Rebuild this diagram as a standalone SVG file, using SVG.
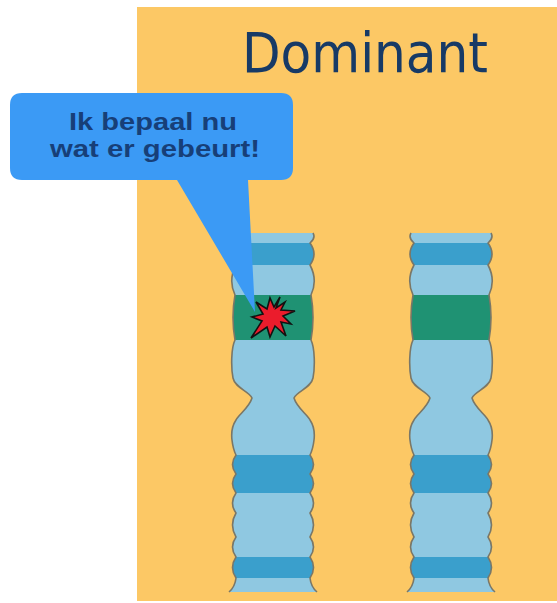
<svg xmlns="http://www.w3.org/2000/svg" xmlns:xlink="http://www.w3.org/1999/xlink" width="557" height="603" viewBox="0 0 557 603">
  <style>
    .panel { fill: #FCC865; }
    .title { font-family: "DejaVu Sans Condensed", "DejaVu Sans", Verdana, sans-serif; font-size: 55px; fill: #173A66; }
    .body { fill: #8FC8E1; }
    .band-blue { fill: #3A9FCC; }
    .band-green { fill: #1F9273; }
    .edge { fill: none; stroke: #7A7767; stroke-width: 1.6; stroke-linejoin: round; }
    .bubble { fill: #3B9AF5; }
    .bubble-text { font-family: "Liberation Sans", Arial, sans-serif; font-weight: bold; font-size: 24px; fill: #173F78; }
    .burst { fill: #EB1C2C; stroke: #111111; stroke-width: 1.6; stroke-linejoin: miter; }
  </style>
  <defs>
    <!-- chromosome silhouette, centred on x = 0 -->
    <path id="chromo-shape" d="M -40 233
      Q -43 238 -37 243 Q -45 254 -37 265 Q -45 280 -38 295 Q -42 317.5 -38 340
      C -42 348 -42 368 -40 378 C -38 388 -24 391 -21 398 C -24 408 -34 414 -37 420
      C -41 426 -42 432 -41 440 Q -40 449 -37 455
      Q -44 464.5 -37 474 Q -44 483.5 -37 493 Q -44 503 -37 513 Q -44 525 -37 537
      Q -44 547 -37 557 Q -44 567.5 -37 578 Q -38 587 -44 592
      L 44 592
      Q 38 587 37 578 Q 44 567.5 37 557 Q 44 547 37 537 Q 44 525 37 513 Q 44 503 37 493
      Q 44 483.5 37 474 Q 44 464.5 37 455 Q 40 449 41 440
      C 42 432 41 426 37 420 C 34 414 24 408 21 398 C 24 391 38 388 40 378
      C 42 368 42 348 38 340 Q 42 317.5 38 295 Q 45 280 37 265 Q 45 254 37 243
      Q 43 238 40 233 Z"/>
    <!-- left outline only (top and bottom ends are left open) -->
    <path id="chromo-edge" d="M -40 233
      Q -43 238 -37 243 Q -45 254 -37 265 Q -45 280 -38 295 Q -42 317.5 -38 340
      C -42 348 -42 368 -40 378 C -38 388 -24 391 -21 398 C -24 408 -34 414 -37 420
      C -41 426 -42 432 -41 440 Q -40 449 -37 455
      Q -44 464.5 -37 474 Q -44 483.5 -37 493 Q -44 503 -37 513 Q -44 525 -37 537
      Q -44 547 -37 557 Q -44 567.5 -37 578 Q -38 587 -44 592"/>
    <clipPath id="chromo-clip">
      <use xlink:href="#chromo-shape"/>
    </clipPath>
    <!-- banded chromosome drawn once, placed twice -->
    <g id="chromosome">
      <use xlink:href="#chromo-shape" class="body"/>
      <g clip-path="url(#chromo-clip)">
        <rect class="band-blue" x="-50" y="243" width="100" height="22"/>
        <rect class="band-green" x="-50" y="295" width="100" height="45"/>
        <rect class="band-blue" x="-50" y="455" width="100" height="38"/>
        <rect class="band-blue" x="-50" y="557" width="100" height="21"/>
      </g>
      <use xlink:href="#chromo-edge" class="edge"/>
      <use xlink:href="#chromo-edge" class="edge" transform="scale(-1,1)"/>
    </g>
  </defs>

  <g id="background">
    <rect x="0" y="0" width="557" height="603" fill="#FFFFFF"/>
    <rect class="panel" x="137" y="7" width="420" height="594"/>
  </g>

  <g id="title">
    <text class="title" x="242" y="72" textLength="246" lengthAdjust="spacingAndGlyphs">Dominant</text>
  </g>

  <g id="chromosome-left">
    <use xlink:href="#chromosome" transform="translate(273,0)"/>
  </g>

  <g id="chromosome-right">
    <use xlink:href="#chromosome" transform="translate(451,0)"/>
  </g>

  <g id="speech-bubble">
    <path class="bubble" d="M 22 93 H 281 Q 293 93 293 105 V 168 Q 293 180 281 180 H 248 L 255 312 L 177 180 H 22 Q 10 180 10 168 V 105 Q 10 93 22 93 Z"/>
    <text class="bubble-text" x="153" y="130" text-anchor="middle" textLength="168" lengthAdjust="spacingAndGlyphs">Ik bepaal nu</text>
    <text class="bubble-text" x="155" y="157" text-anchor="middle" textLength="210" lengthAdjust="spacingAndGlyphs">wat er gebeurt!</text>
  </g>

  <g id="mutation-burst">
    <polygon class="burst" points="280,297 276,308 285,302 281,310 295,311 283,316 291,324 281,322 286,336 275,326 270,337 267,327 251,338 262,321 252,317 263,314 256,302 267,309 270,298 274,307"/>
  </g>
</svg>
